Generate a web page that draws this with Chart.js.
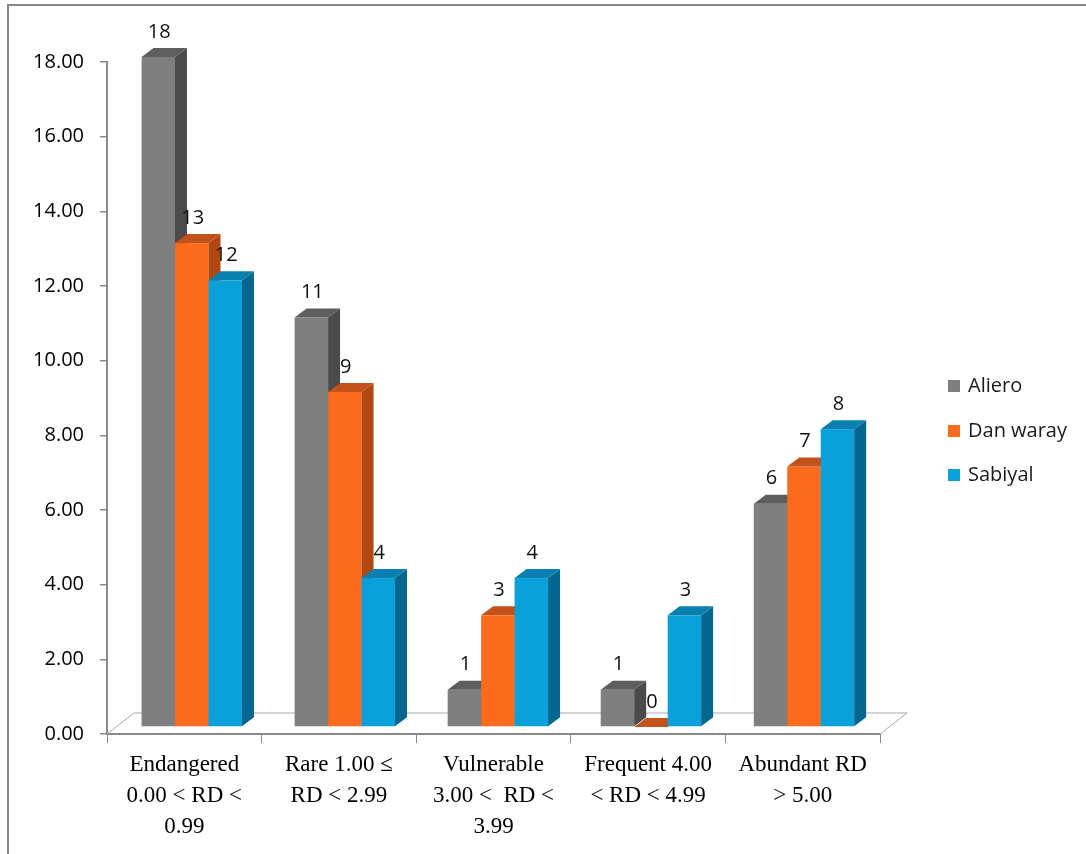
<!DOCTYPE html>
<html>
<head>
<meta charset="utf-8">
<script src="https://cdn.jsdelivr.net/npm/chart.js@4.4.1/dist/chart.umd.min.js"></script>
<style>
html, body { margin: 0; padding: 0; background: #fff; overflow: hidden; }
#frame { position: absolute; left: 7px; top: 4px; width: 1200px; height: 1000px; border: 2px solid #878787; }
#wrap { position: absolute; left: 0; top: 0; width: 1086px; height: 854px; }
</style>
</head>
<body>
<div id="frame"></div>
<div id="wrap"><canvas id="chart" width="1086" height="854"></canvas></div>
<script>
// データ
var categories = [
    ['Endangered', '0.00 < RD <', '0.99'],
    ['Rare 1.00 \u2264', 'RD < 2.99'],
    ['Vulnerable', '3.00 <  RD <', '3.99'],
    ['Frequent 4.00', '< RD < 4.99'],
    ['Abundant RD', '> 5.00']
];
var aliero = [18, 11, 1, 1, 6];
var danWaray = [13, 9, 3, 0, 7];
var sabiyal = [12, 4, 4, 3, 8];
var seriesNames = ['Aliero', 'Dan waray', 'Sabiyal'];
var yMax = 18;
var yStep = 2;

// 3D風の面の色 (前, 横, 上)
var faceColors = [
    { front: '#7f7f7f', side: '#4b4b4b', top: '#5e5e5e' },
    { front: '#fa6b1d', side: '#b24710', top: '#c2521a' },
    { front: '#0aa1da', side: '#05668f', top: '#0a80b0' }
];
var depthX = 12, depthY = -9; // 棒の奥行き
var floorX = 27, floorY = -21; // 床の奥行き

// 奥の面に合わせた少しの縮小
function px(x) { return 0.99 * x + 9.3; }
function py(y) { return 0.997 * y - 4.8; }

var bars3d = {
    id: 'bars3d',
    beforeDatasetsDraw: function(chart) {
        var c = chart.ctx;
        var a = chart.chartArea;
        c.save();
        // 床
        c.strokeStyle = '#a8a8a8';
        c.lineWidth = 1;
        c.beginPath();
        c.moveTo(a.left, a.bottom);
        c.lineTo(a.left + floorX, a.bottom + floorY);
        c.lineTo(a.right + floorX, a.bottom + floorY);
        c.lineTo(a.right, a.bottom);
        c.stroke();

        var n = chart.data.datasets.length;
        for (var j = 0; j < categories.length; j++) {
            for (var i = 0; i < n; i++) {
                var el = chart.getDatasetMeta(i).data[j];
                var col = faceColors[i];
                var L = px(el.x - el.width / 2), R = px(el.x + el.width / 2);
                var T = py(el.y), B = py(el.base);
                // 前面
                c.fillStyle = col.front;
                c.fillRect(L, T, R - L, B - T);
                // 横
                c.fillStyle = col.side;
                c.beginPath();
                c.moveTo(R, T);
                c.lineTo(R + depthX, T + depthY);
                c.lineTo(R + depthX, B + depthY);
                c.lineTo(R, B);
                c.closePath();
                c.fill();
                // 上
                c.fillStyle = col.top;
                c.beginPath();
                c.moveTo(L, T);
                c.lineTo(L + depthX, T + depthY);
                c.lineTo(R + depthX, T + depthY);
                c.lineTo(R, T);
                c.closePath();
                c.fill();
            }
        }
        // 数値ラベル
        c.fillStyle = '#111';
        c.font = '20px "Open Sans"';
        c.textAlign = 'center';
        c.textBaseline = 'middle';
        for (var i2 = 0; i2 < n; i2++) {
            var meta = chart.getDatasetMeta(i2);
            var vals = chart.data.datasets[i2].data;
            meta.data.forEach(function(el, k) {
                var cx = px(el.x) + 1;
                c.fillText(String(vals[k]), cx, py(el.y) - 25);
            });
        }
        c.restore();
        return false; // 標準の棒は描かない
    },
    afterDraw: function(chart) {
        // 凡例
        var c = chart.ctx;
        c.save();
        c.font = '20px "Open Sans"';
        c.textAlign = 'left';
        c.textBaseline = 'middle';
        var rows = [386, 431, 475];
        chart.data.datasets.forEach(function(ds, i) {
            c.fillStyle = ds.backgroundColor;
            c.fillRect(948, rows[i] - 6, 12, 12);
            c.fillStyle = '#1a1a1a';
            c.fillText(ds.label, 968, rows[i]);
        });
        c.restore();
    }
};

var chart = new Chart(document.getElementById('chart').getContext('2d'), {
    type: 'bar',
    data: {
        labels: categories,
        datasets: [
            { label: seriesNames[0], data: aliero, backgroundColor: faceColors[0].front },
            { label: seriesNames[1], data: danWaray, backgroundColor: faceColors[1].front },
            { label: seriesNames[2], data: sabiyal, backgroundColor: faceColors[2].front }
        ]
    },
    options: {
        responsive: false,
        animation: false,
        categoryPercentage: 0.656,
        barPercentage: 1,
        layout: {
            padding: { left: 0, right: 206, top: 62, bottom: 0 }
        },
        scales: {
            x: {
                grid: { offset: true, drawOnChartArea: false, tickLength: 9, color: '#8a8a8a', lineWidth: 1 },
                border: { color: '#8a8a8a', width: 2 },
                ticks: {
                    color: '#000',
                    font: { family: '"Liberation Serif"', size: 23, lineHeight: 1.35 },
                    padding: 6,
                    maxRotation: 0,
                    autoSkip: false
                },
                afterFit: function(s) {
                    s.height = 120;
                    s.paddingLeft = 0;
                    s.paddingRight = 0;
                }
            },
            y: {
                min: 0,
                max: yMax,
                grid: { drawOnChartArea: false, tickLength: 7, color: '#8a8a8a', lineWidth: 1.5 },
                border: { color: '#8a8a8a', width: 2 },
                ticks: {
                    stepSize: yStep,
                    color: '#000',
                    font: { family: '"Open Sans"', size: 20 },
                    padding: 16,
                    callback: function(v) { return v.toFixed(2); }
                },
                afterFit: function(s) {
                    s.width = 107;
                    s.paddingTop = 0;
                    s.paddingBottom = 0;
                }
            }
        },
        plugins: {
            legend: { display: false },
            tooltip: { enabled: false }
        }
    },
    plugins: [bars3d]
});
</script>
</body>
</html>
